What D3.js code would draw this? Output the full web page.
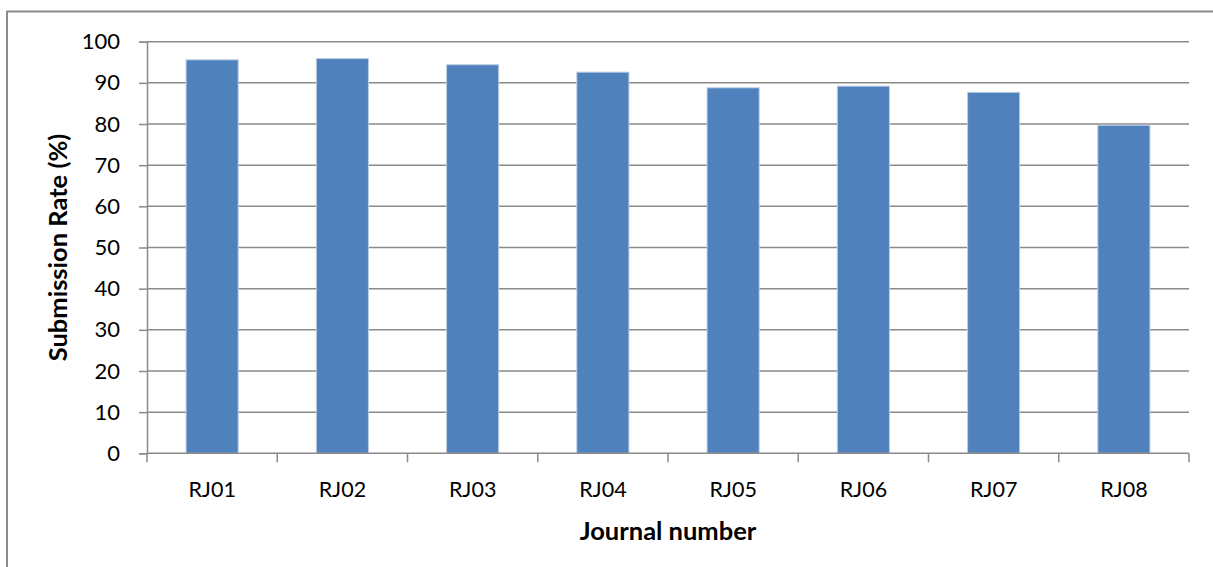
<!DOCTYPE html>
<html>
<head>
<meta charset="utf-8">
<script src="https://cdn.jsdelivr.net/npm/d3@7"></script>
<style>
  html, body { margin: 0; padding: 0; background: #fff; }
  svg { display: block; }
  text { font-family: Lato, "Open Sans", sans-serif; fill: #000; }
</style>
</head>
<body>
<svg id="chart" width="1213" height="567"></svg>
<script>
const categories = ["RJ01", "RJ02", "RJ03", "RJ04", "RJ05", "RJ06", "RJ07", "RJ08"];
const submissionRate = [95.6, 95.9, 94.4, 92.6, 88.8, 89.2, 87.7, 79.7];
const yTicks = [0, 10, 20, 30, 40, 50, 60, 70, 80, 90, 100];
const yTitle = "Submission Rate (%)";
const xTitle = "Journal number";

const svg = d3.select("#chart");
const W = 1213, H = 567;
const plot = { left: 147, right: 1189, top: 41.7, bottom: 453.3 };

// outer chart frame
svg.append("rect")
  .attr("x", 7).attr("y", 11.5)
  .attr("width", W + 20).attr("height", H + 20)
  .attr("fill", "none").attr("stroke", "#8c8c8c").attr("stroke-width", 2);

const x = d3.scaleBand().domain(categories)
  .range([plot.left, plot.right]).paddingInner(0.6).paddingOuter(0.3);
const y = d3.scaleLinear().domain([0, 100]).range([plot.bottom, plot.top]);

// gridlines
svg.append("g").selectAll("line").data(yTicks.filter(d => d > 0)).join("line")
  .attr("x1", plot.left).attr("x2", plot.right)
  .attr("y1", d => y(d)).attr("y2", d => y(d))
  .attr("stroke", "#8a8a8a").attr("stroke-width", 1.5);

// bars
svg.append("g").selectAll("rect").data(categories).join("rect")
  .attr("x", d => x(d))
  .attr("y", (d, i) => y(submissionRate[i]))
  .attr("width", x.bandwidth())
  .attr("height", (d, i) => y(0) - y(submissionRate[i]))
  .attr("fill", "#4f81bd")
  .attr("stroke", "#bccde4").attr("stroke-width", 1);

// y axis
const yAxis = d3.axisLeft(y).tickValues(yTicks).tickSize(8).tickPadding(19);
const gy = svg.append("g").attr("transform", `translate(${plot.left},0)`).call(yAxis);
gy.select(".domain").attr("stroke", "#8a8a8a").attr("stroke-width", 1.5);
gy.selectAll(".tick line").attr("stroke", "#8a8a8a").attr("stroke-width", 1.5);
gy.selectAll(".tick text").attr("font-size", 22).attr("font-family", "Lato, sans-serif").attr("fill", "#000");

// x axis (tick marks at band boundaries)
const boundaries = d3.range(categories.length + 1).map(i => plot.left + i * x.step());
const gx = svg.append("g");
gx.append("line").attr("x1", plot.left).attr("x2", plot.right)
  .attr("y1", plot.bottom).attr("y2", plot.bottom)
  .attr("stroke", "#8a8a8a").attr("stroke-width", 1.5);
gx.selectAll("line.tk").data(boundaries).join("line").attr("class", "tk")
  .attr("x1", d => d).attr("x2", d => d)
  .attr("y1", plot.bottom).attr("y2", plot.bottom + 9)
  .attr("stroke", "#8a8a8a").attr("stroke-width", 1.5);
gx.selectAll("text").data(categories).join("text")
  .attr("x", d => x(d) + x.bandwidth() / 2)
  .attr("y", 497)
  .attr("text-anchor", "middle")
  .attr("font-size", 21.5)
  .text(d => d);

// axis titles
svg.append("text")
  .attr("transform", `translate(67,${(plot.top + plot.bottom) / 2}) rotate(-90)`)
  .attr("text-anchor", "middle")
  .attr("font-size", 25.5).attr("font-weight", "bold")
  .text(yTitle);
svg.append("text")
  .attr("x", (plot.left + plot.right) / 2).attr("y", 540)
  .attr("text-anchor", "middle")
  .attr("font-size", 25.5).attr("font-weight", "bold")
  .text(xTitle);
</script>
</body>
</html>
